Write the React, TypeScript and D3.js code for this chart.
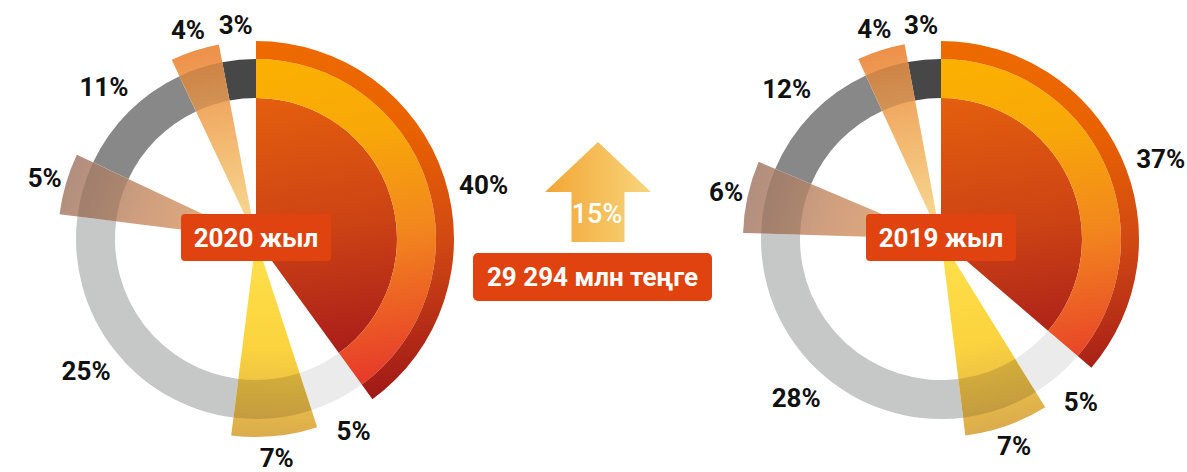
import React from 'react';
import * as d3 from 'd3';

// ---- data ----
const segmentKinds = ['main', 'ring', 'wedge', 'ring', 'wedge', 'ring', 'wedge', 'ring'];
const values2020 = [40, 5, 7, 25, 5, 11, 4, 3];
const values2019 = [37, 5, 7, 28, 6, 12, 4, 3];
const yearLabels = ['2020 жыл', '2019 жыл'];
const growthLabel = '15%';
const totalLabel = '29 294 млн теңге';

// ---- style ----
const W = 1187;
const H = 472;
const R_OUT = 198;
const R_RING_OUT = 180;
const R_RING_IN = 141;
const FONT = 'Roboto, "Noto Sans", sans-serif';
const ORANGE_BOX = '#e0430f';

const ringFill: Record<number, string> = { 1: '#ebebeb', 3: '#c6c8c7', 5: '#888888', 7: '#474747' };
const wedgeStops: Record<number, [number, string][]> = {
  2: [[0, '#ffe043'], [0.55, '#fbd134'], [1, '#d9a744']],
  4: [[0, '#eaae74'], [0.55, '#cf9b78'], [1, '#ad8878']],
  6: [[0, '#f8dc92'], [0.5, '#f2b66a'], [1, '#ec8a40']],
};

type ChartProps = { id: string; cx: number; cy: number; values: number[]; title: string };

const Donut: React.FC<ChartProps> = ({ id, cx, cy, values, title }) => {
  const pie = d3.pie<number>().sort(null).value((d) => d);
  const arcs = pie(values);
  const arc = d3.arc<any>();
  const mk = (a: d3.PieArcDatum<number>, ri: number, ro: number) =>
    arc({ startAngle: a.startAngle, endAngle: a.endAngle, innerRadius: ri, outerRadius: ro }) || '';

  const pt = (ang: number, r: number) => [Math.sin(ang) * r, -Math.cos(ang) * r];

  return (
    <g transform={`translate(${cx},${cy})`}>
      <defs>
        <linearGradient id={`${id}-inner`} gradientUnits="userSpaceOnUse" x1={0} y1={-141} x2={40} y2={125}>
          <stop offset="0" stopColor="#e45f0e" />
          <stop offset="0.5" stopColor="#cd4414" />
          <stop offset="1" stopColor="#a81c1a" />
        </linearGradient>
        <linearGradient id={`${id}-mid`} gradientUnits="userSpaceOnUse" x1={0} y1={-180} x2={60} y2={170}>
          <stop offset="0" stopColor="#fbb100" />
          <stop offset="0.25" stopColor="#f8a808" />
          <stop offset="0.55" stopColor="#f2861e" />
          <stop offset="1" stopColor="#e5302c" />
        </linearGradient>
        <linearGradient id={`${id}-outer`} gradientUnits="userSpaceOnUse" x1={0} y1={-198} x2={60} y2={170}>
          <stop offset="0" stopColor="#ee6b00" />
          <stop offset="0.3" stopColor="#e96200" />
          <stop offset="0.6" stopColor="#d24a12" />
          <stop offset="1" stopColor="#a01818" />
        </linearGradient>
        {arcs.map((a, i) => {
          if (segmentKinds[i] !== 'wedge') return null;
          const mid = (a.startAngle + a.endAngle) / 2 + 0.12;
          const [x2, y2] = pt(mid, R_OUT);
          return (
            <linearGradient key={i} id={`${id}-w${i}`} gradientUnits="userSpaceOnUse" x1={0} y1={0} x2={x2} y2={y2}>
              {wedgeStops[i].map(([o, c], k) => (
                <stop key={k} offset={o} stopColor={c} />
              ))}
            </linearGradient>
          );
        })}
      </defs>

      {arcs.map((a, i) =>
        segmentKinds[i] === 'ring' ? <path key={`r${i}`} d={mk(a, R_RING_IN, R_RING_OUT)} fill={ringFill[i]} /> : null
      )}

      {arcs.map((a, i) =>
        segmentKinds[i] === 'main' ? (
          <g key={`m${i}`}>
            <path d={mk(a, 0, R_RING_IN)} fill={`url(#${id}-inner)`} />
            <path d={mk(a, R_RING_IN, R_RING_OUT)} fill={`url(#${id}-mid)`} />
            <path d={mk(a, R_RING_OUT, R_OUT)} fill={`url(#${id}-outer)`} />
          </g>
        ) : null
      )}

      {arcs.map((a, i) =>
        segmentKinds[i] === 'wedge' ? (
          <g key={`w${i}`}>
            <path d={mk(a, 0, R_OUT)} fill={`url(#${id}-w${i})`} opacity={0.95} />
            <path d={mk(a, R_RING_IN, R_RING_OUT)} fill="#000" opacity={0.13} />
          </g>
        ) : null
      )}

      {arcs.map((a, i) => {
        const kind = segmentKinds[i];
        const mid = (a.startAngle + a.endAngle) / 2 + (kind === 'main' ? 0.08 : 0);
        const r = kind === 'main' ? 234 : kind === 'wedge' ? 220 : 215;
        const [x, y] = pt(mid, r);
        return (
          <text
            key={`t${i}`}
            x={x}
            y={y}
            textAnchor="middle"
            dominantBaseline="central"
            fontFamily={FONT}
            fontWeight={700}
            fontSize={26}
            fill="#111"
          >
            {`${a.data}%`}
          </text>
        );
      })}

      <rect x={-75} y={-25} width={150} height={47} rx={4} fill={ORANGE_BOX} />
      <text
        x={0}
        y={-1}
        textAnchor="middle"
        dominantBaseline="central"
        fontFamily={FONT}
        fontWeight={700}
        fontSize={26}
        fill="#fff"
      >
        {title}
      </text>
    </g>
  );
};

export default function App() {
  const ax = 598;
  const arrowPath = d3.path();
  arrowPath.moveTo(ax, 142);
  arrowPath.lineTo(ax + 53, 192);
  arrowPath.lineTo(ax + 26.5, 192);
  arrowPath.lineTo(ax + 26.5, 242);
  arrowPath.lineTo(ax - 26.5, 242);
  arrowPath.lineTo(ax - 26.5, 192);
  arrowPath.lineTo(ax - 53, 192);
  arrowPath.closePath();

  return (
    <svg
      width={W}
      height={H}
      viewBox={`0 0 ${W} ${H}`}
      style={{ position: 'absolute', left: 0, top: 0, background: '#fff' }}
    >
      <defs>
        <linearGradient id="arrowGrad" x1="0" y1="0" x2="1" y2="0">
          <stop offset="0" stopColor="#f3a534" />
          <stop offset="1" stopColor="#f7d67c" />
        </linearGradient>
      </defs>
      <Donut id="y2020" cx={256} cy={239} values={values2020} title={yearLabels[0]} />
      <Donut id="y2019" cx={941} cy={239} values={values2019} title={yearLabels[1]} />

      <path d={arrowPath.toString()} fill="url(#arrowGrad)" />
      <text
        x={ax - 1}
        y={214}
        textAnchor="middle"
        dominantBaseline="central"
        fontFamily={FONT}
        fontWeight={500}
        fontSize={27}
        fill="#fff"
      >
        {growthLabel}
      </text>

      <rect x={473} y={253} width={239} height={48} rx={5} fill={ORANGE_BOX} />
      <text
        x={592.5}
        y={277}
        textAnchor="middle"
        dominantBaseline="central"
        fontFamily={FONT}
        fontWeight={700}
        fontSize={26}
        fill="#fff"
      >
        {totalLabel}
      </text>
    </svg>
  );
}
